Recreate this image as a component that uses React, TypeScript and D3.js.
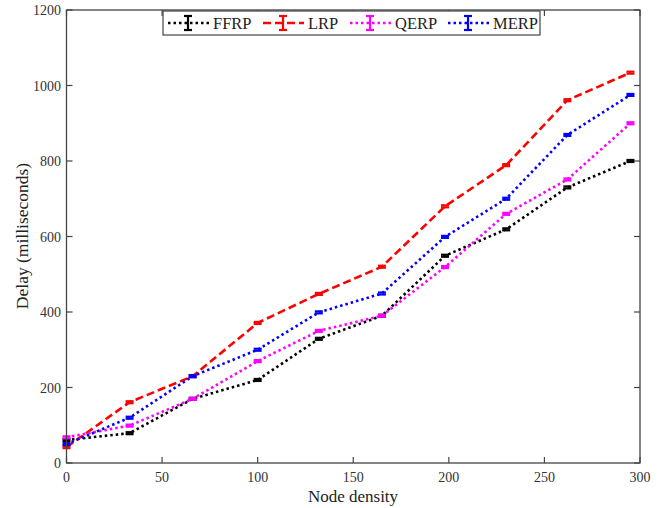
import React from "react";
import * as d3 from "d3";

const xValues = [0, 33, 66, 100, 132, 165, 198, 230, 262, 295];
const ffrp = [61, 79, 170, 220, 329, 390, 549, 619, 730, 800];
const lrp = [42, 161, 230, 371, 448, 520, 680, 789, 961, 1034];
const qerp = [68, 99, 170, 270, 350, 390, 519, 660, 751, 900];
const merp = [50, 120, 230, 300, 399, 449, 599, 700, 869, 975];
const xTicks = [0, 50, 100, 150, 200, 250, 300];
const yTicks = [0, 200, 400, 600, 800, 1000, 1200];

const series = [
  { name: "FFRP", values: ffrp, color: "#000000", dash: "2.5,3" },
  { name: "LRP", values: lrp, color: "#ff0000", dash: "8,4" },
  { name: "QERP", values: qerp, color: "#ff00ff", dash: "2.5,3" },
  { name: "MERP", values: merp, color: "#0000ff", dash: "2.5,3" },
];

const W = 662, H = 508;
const L = 66.5, R = 640, T = 10, B = 463;
const font = "'Liberation Serif', 'Times New Roman', serif";

export default function App() {
  const x = d3.scaleLinear().domain([0, 300]).range([L, R]);
  const y = d3.scaleLinear().domain([0, 1200]).range([B, T]);
  const line = d3.line<[number, number]>().x(d => x(d[0])).y(d => y(d[1]));
  const axisColor = "#444";
  const legendX = [168, 263, 350, 448];
  return (
    <svg width={W} height={H} style={{ position: "absolute", left: 0, top: 0, background: "#fff" }}>
      <rect x={0} y={0} width={W} height={H} fill="#fff" />
      {series.map(s => (
        <g key={s.name}>
          <path d={line(xValues.map((xv, i) => [xv, s.values[i]]) as any) || ""} fill="none" stroke={s.color} strokeWidth={2.6} strokeDasharray={s.dash} />
          {xValues.map((xv, i) => (
            <g key={i} stroke={s.color} strokeWidth={2.2}>
              <line x1={x(xv) - 4} x2={x(xv) + 4} y1={y(s.values[i]) - 1} y2={y(s.values[i]) - 1} />
              <line x1={x(xv) - 4} x2={x(xv) + 4} y1={y(s.values[i]) + 1} y2={y(s.values[i]) + 1} />
            </g>
          ))}
        </g>
      ))}
      <rect x={L} y={T} width={R - L} height={B - T} fill="none" stroke={axisColor} strokeWidth={1.3} />
      {xTicks.map(t => (
        <g key={"x" + t}>
          <line x1={x(t)} x2={x(t)} y1={B} y2={B - 6} stroke={axisColor} strokeWidth={1.2} />
          <line x1={x(t)} x2={x(t)} y1={T} y2={T + 6} stroke={axisColor} strokeWidth={1.2} />
          <text x={x(t)} y={482} textAnchor="middle" fontFamily={font} fontSize={14} fill="#333">{t}</text>
        </g>
      ))}
      {yTicks.map(t => (
        <g key={"y" + t}>
          <line x1={L} x2={L + 6} y1={y(t)} y2={y(t)} stroke={axisColor} strokeWidth={1.2} />
          <line x1={R} x2={R - 6} y1={y(t)} y2={y(t)} stroke={axisColor} strokeWidth={1.2} />
          <text x={61} y={y(t) + 5} textAnchor="end" fontFamily={font} fontSize={14} fill="#333">{t}</text>
        </g>
      ))}
      <text x={353} y={502} textAnchor="middle" fontFamily={font} fontSize={17} fill="#222">Node density</text>
      <text transform={`translate(28,236) rotate(-90)`} textAnchor="middle" fontFamily={font} fontSize={17.5} fill="#222">Delay (milliseconds)</text>
      <rect x={163} y={11} width={377} height={24} fill="#fff" stroke={axisColor} strokeWidth={1.2} />
      {series.map((s, i) => {
        const lx = legendX[i];
        const cx = lx + 20;
        return (
          <g key={"lg" + s.name}>
            <line x1={lx} x2={lx + 41} y1={23} y2={23} stroke={s.color} strokeWidth={2.6} strokeDasharray={s.dash} />
            <g stroke={s.color} strokeWidth={2.2}>
              <line x1={cx} x2={cx} y1={16} y2={30} />
              <line x1={cx - 4} x2={cx + 4} y1={16} y2={16} />
              <line x1={cx - 4} x2={cx + 4} y1={30} y2={30} />
            </g>
            <text x={lx + 45} y={29} fontFamily={font} fontSize={16.5} fill="#222">{s.name}</text>
          </g>
        );
      })}
    </svg>
  );
}
